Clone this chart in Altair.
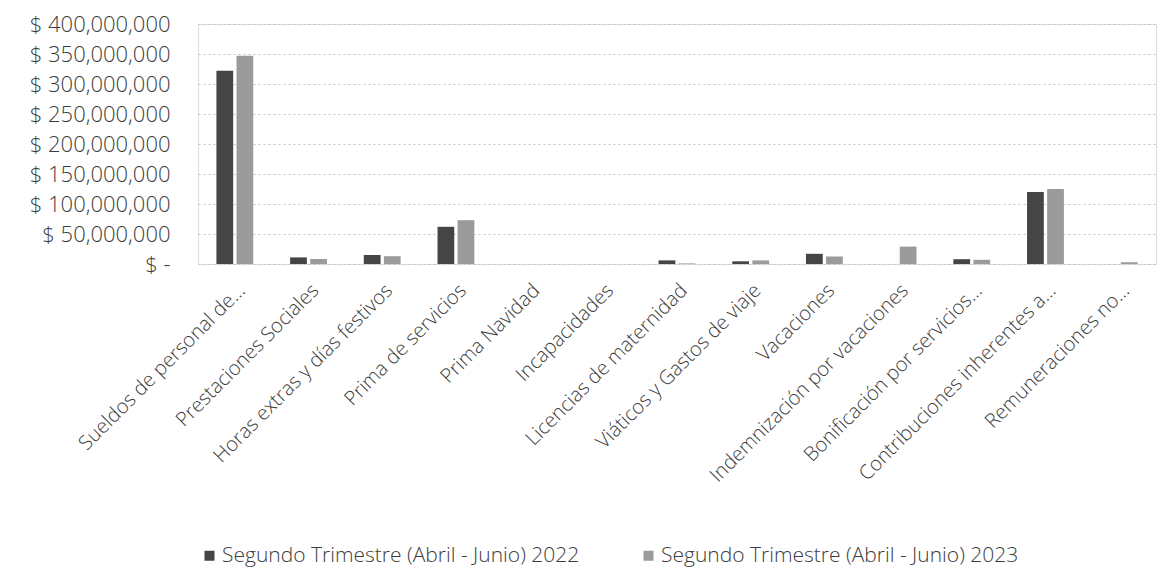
import altair as alt
import pandas as pd

categories = [
    "Sueldos de personal de…",
    "Prestaciones Sociales",
    "Horas extras y días festivos",
    "Prima de servicios",
    "Prima Navidad",
    "Incapacidades",
    "Licencias de maternidad",
    "Viáticos y Gastos de viaje",
    "Vacaciones",
    "Indemnización por vacaciones",
    "Bonificación por servicios…",
    "Contribuciones inherentes a…",
    "Remuneraciones no…",
]
series = ["Segundo Trimestre (Abril - Junio) 2022", "Segundo Trimestre (Abril - Junio) 2023"]
v2022 = [322e6, 11e6, 15e6, 62e6, 0, 0, 6e6, 4.5e6, 17e6, 0, 8e6, 120e6, 0]
v2023 = [347e6, 8.5e6, 13e6, 73e6, 0, 0, 1e6, 6e6, 12.5e6, 29e6, 7e6, 125e6, 3e6]
y_ticks = [0, 50e6, 100e6, 150e6, 200e6, 250e6, 300e6, 350e6, 400e6]

rows = []
for c, a, b in zip(categories, v2022, v2023):
    rows.append({"cat": c, "serie": series[0], "valor": a})
    rows.append({"cat": c, "serie": series[1], "valor": b})
df = pd.DataFrame(rows)

FONT = "Open Sans"
TXT = "#3c3c3c"

chart = alt.Chart(df).mark_bar().encode(
    x=alt.X("cat:N", sort=categories, title=None,
            scale=alt.Scale(paddingInner=0.5, paddingOuter=0.25),
            axis=alt.Axis(labelAngle=-45, labelFontSize=20, labelFont=FONT, labelColor=TXT,
                          labelFontWeight=300, ticks=False, domain=False, labelPadding=16,
                          labelLimit=500, grid=False)),
    xOffset=alt.XOffset("serie:N", sort=series,
                        scale=alt.Scale(paddingInner=0.165, paddingOuter=0)),
    y=alt.Y("valor:Q", title=None,
            scale=alt.Scale(domain=[0, 400e6], nice=False),
            axis=alt.Axis(values=y_ticks, labelFontSize=22, labelFont=FONT, labelColor=TXT,
                          labelFontWeight=300, ticks=False, domain=False, labelPadding=28,
                          gridColor="#c4c4c4", gridDash=[2, 3], gridWidth=1,
                          labelExpr="datum.value == 0 ? '$ -\u00a0\u00a0\u00a0' : '$ ' + format(datum.value, ',')")),
    color=alt.Color("serie:N", sort=series,
                    scale=alt.Scale(domain=series, range=["#454545", "#9b9b9b"]),
                    legend=alt.Legend(title=None, orient="none", direction="horizontal",
                                      legendX=1, legendY=521, symbolType="square",
                                      symbolSize=100, symbolStrokeWidth=0,
                                      labelFontSize=21, labelFont=FONT, labelColor=TXT,
                                      labelFontWeight=300, columnPadding=58, labelOffset=2,
                                      labelLimit=600)),
).properties(
    width=958, height=240,
    autosize=alt.AutoSizeParams(type="none"),
    padding={"left": 190, "top": 16, "right": 4, "bottom": 303},
).configure_view(stroke=None).configure(background="white")

chart.save("out.html", embed_options={"renderer": "svg", "actions": False})
